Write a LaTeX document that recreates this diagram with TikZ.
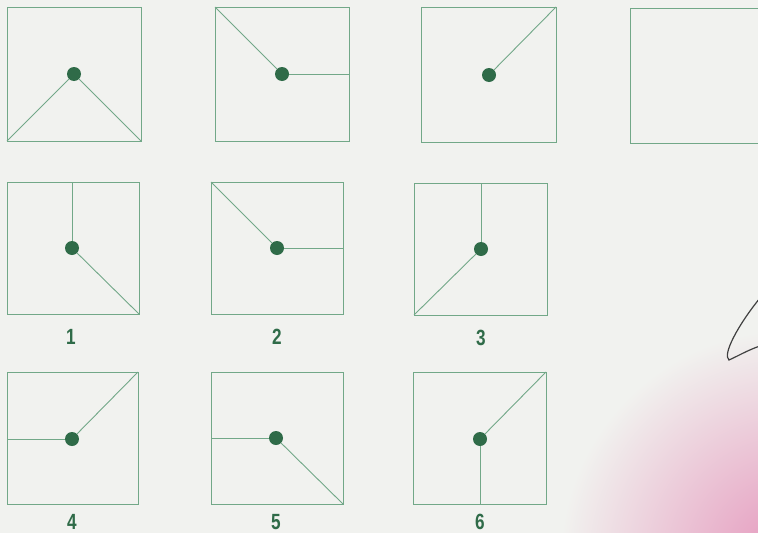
\documentclass[tikz,border=0pt]{standalone}
\usepackage{fontspec}
\setmainfont{Liberation Sans}
\definecolor{bg}{HTML}{F1F2EF}
\definecolor{ln}{HTML}{72A888}
\definecolor{dotc}{HTML}{2F6B48}
\definecolor{lab}{HTML}{2F6B48}
\definecolor{pinkc}{HTML}{E596BC}
\begin{document}
\begin{tikzpicture}[x=1pt,y=-1pt,
  boxs/.style={draw=ln,line width=0.9pt},
  seg/.style={draw=ln,line width=0.9pt},
  hub/.style={circle,fill=dotc,inner sep=0pt,minimum size=14pt},
  num/.style={text=lab,font=\bfseries\fontsize{22}{22}\selectfont,xscale=0.78,inner sep=1pt}]
\useasboundingbox (0,0) rectangle (758,533);
\fill[bg] (0,0) rectangle (758,533);
\begin{scope}
\clip (0,0) rectangle (758,533);
\shade[inner color=pinkc, outer color=bg] (790,560) circle (230);
% partial box at right
\draw[boxs] (630,8) rectangle (800,143);
% curve at right
\coordinate (c1) at (760,298);
\coordinate (c2) at (760,346);
\draw[line width=1.2pt, draw=black!75] (c1) .. controls (738,325) and (722,355) .. (729,360) .. controls (738,356) and (748,350) .. (c2);
\end{scope}
% row 1
\draw[boxs] (7,7) rectangle (141,141);
\node[hub] (h1) at (74,74) {};
\coordinate (a1) at (7,141); \coordinate (b1) at (141,141);
\draw[seg] (h1) -- (a1); \draw[seg] (h1) -- (b1);
\draw[boxs] (215,7) rectangle (349,141);
\node[hub] (h2) at (282,74) {};
\coordinate (a2) at (215,7); \coordinate (b2) at (349,74);
\draw[seg] (h2) -- (a2); \draw[seg] (h2) -- (b2);
\draw[boxs] (421,7) rectangle (556,142);
\node[hub] (h3) at (489,75) {};
\coordinate (a3) at (556,7);
\draw[seg] (h3) -- (a3);
% row 2
\draw[boxs] (7,182) rectangle (139,314);
\node[hub] (o1) at (72,248) {};
\coordinate (p1) at (72,182); \coordinate (q1) at (139,314);
\draw[seg] (o1) -- (p1); \draw[seg] (o1) -- (q1);
\node[num] (n1) at (71,337) {1};
\draw[boxs] (211,182) rectangle (343,314);
\node[hub] (o2) at (277,248) {};
\coordinate (p2) at (211,182); \coordinate (q2) at (343,248);
\draw[seg] (o2) -- (p2); \draw[seg] (o2) -- (q2);
\node[num] (n2) at (277,337) {2};
\draw[boxs] (414,183) rectangle (547,315);
\node[hub] (o3) at (481,249) {};
\coordinate (p3) at (481,183); \coordinate (q3) at (414,315);
\draw[seg] (o3) -- (p3); \draw[seg] (o3) -- (q3);
\node[num] (n3) at (481,338) {3};
% row 3
\draw[boxs] (7,372) rectangle (138,504);
\node[hub] (o4) at (72,439) {};
\coordinate (p4) at (7,439); \coordinate (q4) at (138,372);
\draw[seg] (o4) -- (p4); \draw[seg] (o4) -- (q4);
\node[num] (n4) at (72,522) {4};
\draw[boxs] (211,372) rectangle (343,504);
\node[hub] (o5) at (276,438) {};
\coordinate (p5) at (211,438); \coordinate (q5) at (343,504);
\draw[seg] (o5) -- (p5); \draw[seg] (o5) -- (q5);
\node[num] (n5) at (276,522) {5};
\draw[boxs] (413,372) rectangle (546,504);
\node[hub] (o6) at (480,439) {};
\coordinate (p6) at (546,372); \coordinate (q6) at (480,504);
\draw[seg] (o6) -- (p6); \draw[seg] (o6) -- (q6);
\node[num] (n6) at (480,522) {6};
\end{tikzpicture}
\end{document}
